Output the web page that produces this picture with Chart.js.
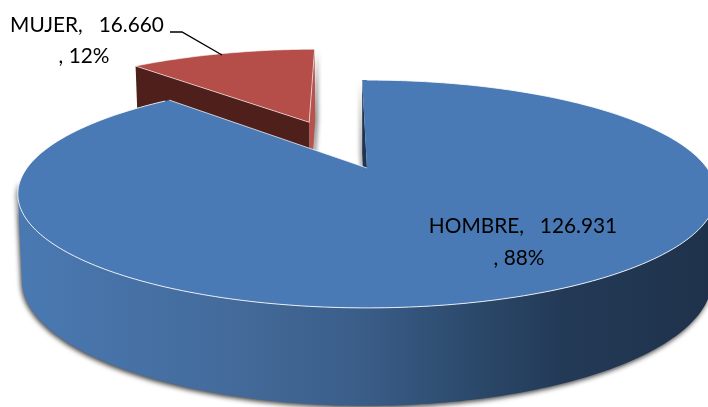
<!DOCTYPE html>
<html lang="es">
<head>
<meta charset="utf-8">
<title>Hombre / Mujer</title>
<script src="https://cdn.jsdelivr.net/npm/chart.js@4/dist/chart.umd.min.js"></script>
<style>
  html, body { margin: 0; padding: 0; background: #fff; }
  canvas { display: block; }
</style>
</head>
<body>
<canvas id="chart-sexo" width="708" height="407"></canvas>
<script>
const categories = ["HOMBRE", "MUJER"];
const values = [126931, 16660];
const valueLabels = ["126.931", "16.660"];
const percentLabels = ["88%", "12%"];
const explodePercent = [0, 50.5];
const topColors = ["#4a7ab5", "#b54d48"];

// Perspective of the tilted disc, fitted to the rims of the big slice.
const view = { cx: 367, k: 0.228, a: 340, b: 108, cy: 168, lowerA: 336, lowerB: 119.5, lowerCy: 251 };

function project(u, v, lower) {
  const w = 1 - view.k * v;
  const x = view.cx + (lower ? view.lowerA : view.a) * u / w;
  const y = (lower ? view.lowerCy : view.cy) + (lower ? view.lowerB : view.b) * v / w;
  return [x, y];
}

function tracePoly(ctx, points) {
  points.forEach((p, i) => (i ? ctx.lineTo(p[0], p[1]) : ctx.moveTo(p[0], p[1])));
  ctx.closePath();
}

function fillPoly(ctx, points, fill) {
  ctx.beginPath();
  tracePoly(ctx, points);
  ctx.fillStyle = fill;
  ctx.fill();
}

function rimLine(ctx, points, alpha) {
  ctx.save();
  ctx.beginPath();
  points.forEach((p, i) => (i ? ctx.lineTo(p[0], p[1]) : ctx.moveTo(p[0], p[1])));
  ctx.strokeStyle = "rgba(255,255,255," + alpha + ")";
  ctx.lineWidth = 1;
  ctx.stroke();
  ctx.restore();
}

function signedArea(q) {
  let s = 0;
  q.forEach((p, i) => {
    const n = q[(i + 1) % q.length];
    s += p[0] * n[1] - n[0] * p[1];
  });
  return s;
}

// Angles come from the library's arc elements; 1 unit = disc radius.
function sliceShape(arc) {
  const { startAngle, endAngle } = arc.getProps(["startAngle", "endAngle"], true);
  const mid = (startAngle + endAngle) / 2;
  const d = arc.options.offset / 100;
  const ox = Math.cos(mid) * d;
  const oy = Math.sin(mid) * d;
  const steps = Math.ceil((endAngle - startAngle) / (Math.PI / 180));
  const rim = [];
  for (let i = 0; i <= steps; i++) {
    const t = startAngle + (endAngle - startAngle) * i / steps;
    rim.push([ox + Math.cos(t), oy + Math.sin(t)]);
  }
  return { rim, apex: [ox, oy] };
}

const at = (p, lower) => project(p[0], p[1], lower);

function drawRedSlice(ctx, arc, color) {
  const { rim, apex } = sliceShape(arc);
  const first = rim[0];
  const last = rim[rim.length - 1];

  ctx.save();
  ctx.shadowColor = "rgba(0,0,0,0.45)";
  ctx.shadowBlur = 4;
  ctx.shadowOffsetX = 3;
  fillPoly(ctx, [at(last), at(apex), at(apex, true), at(last, true)], "#b8524c");
  ctx.restore();
  fillPoly(ctx, [at(first), at(apex), at(apex, true), at(first, true)], "#4f1f1c");

  const top = rim.map(p => at(p));
  fillPoly(ctx, [at(apex), ...top], color);
  rimLine(ctx, [at(first), at(apex), at(last)], 0.6);
  rimLine(ctx, top, 0.6);
}

function drawBlueSlice(ctx, arc, color) {
  const { rim, apex } = sliceShape(arc);
  const first = rim[0];
  const last = rim[rim.length - 1];

  ctx.save();
  ctx.shadowColor = "rgba(0,0,0,0.45)";
  ctx.shadowBlur = 4;
  ctx.shadowOffsetX = -2;
  fillPoly(ctx, [at(first), at(apex), at(apex, true), at(first, true)], "#1f3450");
  ctx.restore();

  const side = ctx.createLinearGradient(18, 0, 708, 0);
  side.addColorStop(0, "#4a79b2");
  side.addColorStop(0.32, "#436a9a");
  side.addColorStop(0.5, "#3a5d88");
  side.addColorStop(0.65, "#2c4a6c");
  side.addColorStop(0.79, "#233a57");
  side.addColorStop(1, "#1f324b");

  // Outer wall swept between the two rims, front half only: the back is hidden
  // and its shadow would spill over the top rim.
  ctx.save();
  ctx.shadowColor = "rgba(0,0,0,0.75)";
  ctx.shadowBlur = 5;
  ctx.shadowOffsetX = -1;
  ctx.shadowOffsetY = 2;
  ctx.beginPath();
  for (let i = 0; i < rim.length - 1; i++) {
    if (rim[i][1] < 0.1 || rim[i + 1][1] < 0.1) continue;
    const q = [at(rim[i]), at(rim[i + 1]), at(rim[i + 1], true), at(rim[i], true)];
    tracePoly(ctx, signedArea(q) < 0 ? q.reverse() : q);
  }
  ctx.fillStyle = side;
  ctx.fill();
  ctx.restore();

  const top = rim.map(p => at(p));
  fillPoly(ctx, [at(apex), ...top], color);
  rimLine(ctx, top.slice(1, -1), 0.85);
  rimLine(ctx, [at(last), at(apex)], 0.7);
}

const pie3d = {
  id: "pie3d",
  beforeDatasetsDraw(chart) {
    const ctx = chart.ctx;
    const arcs = chart.getDatasetMeta(0).data;
    drawRedSlice(ctx, arcs[1], topColors[1]);
    drawBlueSlice(ctx, arcs[0], topColors[0]);
    return false;
  },
  afterDraw(chart) {
    const ctx = chart.ctx;
    ctx.save();
    ctx.fillStyle = "#000";
    ctx.font = '20.8px Lato, "Open Sans", sans-serif';
    ctx.textAlign = "center";
    ctx.textBaseline = "middle";
    ctx.fillText(categories[1] + ",   " + valueLabels[1], 87, 25);
    ctx.fillText(", " + percentLabels[1], 84, 56);
    ctx.fillText(categories[0] + ",   " + valueLabels[0], 523, 226);
    ctx.fillText(", " + percentLabels[0], 519, 258);

    ctx.beginPath();
    ctx.moveTo(170, 32);
    ctx.lineTo(182, 32);
    ctx.lineTo(222, 55);
    ctx.strokeStyle = "#000";
    ctx.lineWidth = 1.4;
    ctx.stroke();
    ctx.restore();
  }
};

new Chart(document.getElementById("chart-sexo").getContext("2d"), {
  type: "pie",
  data: {
    labels: categories,
    datasets: [{
      data: values,
      backgroundColor: topColors,
      offset: explodePercent,
      borderWidth: 0
    }]
  },
  options: {
    responsive: false,
    animation: false,
    rotation: -1,
    plugins: { legend: { display: false }, tooltip: { enabled: false } }
  },
  plugins: [pie3d]
});
</script>
</body>
</html>
